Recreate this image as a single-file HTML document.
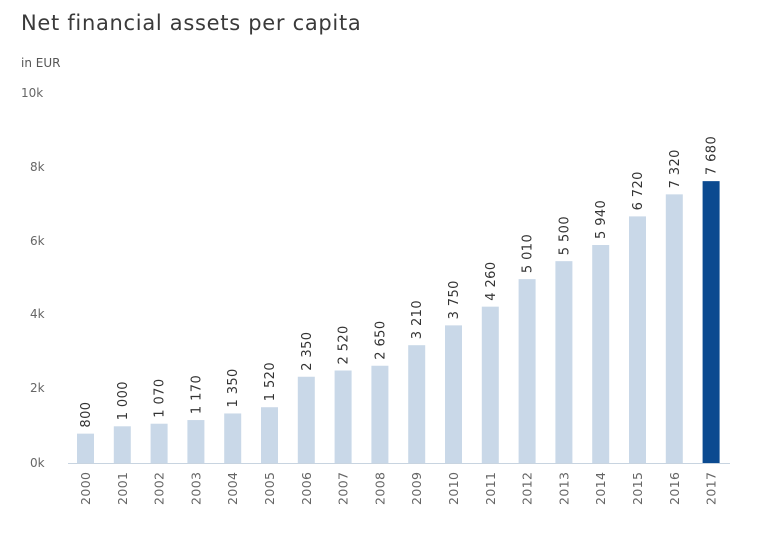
<!DOCTYPE html>
<html><head><style>
body{margin:0;background:#fff;}
svg{display:block;font-family:"DejaVu Sans","Liberation Sans",sans-serif;}
</style></head><body>
<svg width="768" height="540" viewBox="0 0 768 540">
<text x="21" y="30" font-size="21" letter-spacing="0.7" fill="#3a3a3a">Net financial assets per capita</text>
<text x="21" y="67" font-size="12" fill="#555">in EUR</text>
<g font-size="12" fill="#666">
<text x="21" y="97">10k</text>
<text x="30" y="171">8k</text>
<text x="30" y="245">6k</text>
<text x="30" y="318">4k</text>
<text x="30" y="392">2k</text>
<text x="30" y="467">0k</text>
</g>
<line x1="68" y1="463.5" x2="730" y2="463.5" stroke="#c8d4e0" stroke-width="1"/>
<g fill="#c9d8e8">
<rect x="77" y="433.64" width="17" height="29.36"/>
<rect x="113.8" y="426.3" width="17" height="36.7"/>
<rect x="150.6" y="423.73" width="17" height="39.27"/>
<rect x="187.4" y="420.06" width="17" height="42.94"/>
<rect x="224.2" y="413.45" width="17" height="49.55"/>
<rect x="261" y="407.22" width="17" height="55.78"/>
<rect x="297.8" y="376.75" width="17" height="86.25"/>
<rect x="334.6" y="370.52" width="17" height="92.48"/>
<rect x="371.4" y="365.74" width="17" height="97.26"/>
<rect x="408.2" y="345.19" width="17" height="117.81"/>
<rect x="445" y="325.37" width="17" height="137.63"/>
<rect x="481.8" y="306.66" width="17" height="156.34"/>
<rect x="518.6" y="279.13" width="17" height="183.87"/>
<rect x="555.4" y="261.15" width="17" height="201.85"/>
<rect x="592.2" y="245" width="17" height="218"/>
<rect x="629" y="216.38" width="17" height="246.62"/>
<rect x="665.8" y="194.36" width="17" height="268.64"/>
</g>
<rect x="702.6" y="181.14" width="17" height="281.86" fill="#0b4a90"/>
<g font-size="13" letter-spacing="0.4" fill="#333">
<text transform="translate(90,427.6) rotate(-90)">800</text>
<text transform="translate(126.8,420.3) rotate(-90)">1 000</text>
<text transform="translate(163.6,417.7) rotate(-90)">1 070</text>
<text transform="translate(200.4,414.1) rotate(-90)">1 170</text>
<text transform="translate(237.2,407.5) rotate(-90)">1 350</text>
<text transform="translate(274,401.2) rotate(-90)">1 520</text>
<text transform="translate(310.8,370.8) rotate(-90)">2 350</text>
<text transform="translate(347.6,364.5) rotate(-90)">2 520</text>
<text transform="translate(384.4,359.7) rotate(-90)">2 650</text>
<text transform="translate(421.2,339.2) rotate(-90)">3 210</text>
<text transform="translate(458,319.4) rotate(-90)">3 750</text>
<text transform="translate(494.8,300.7) rotate(-90)">4 260</text>
<text transform="translate(531.6,273.1) rotate(-90)">5 010</text>
<text transform="translate(568.4,255.2) rotate(-90)">5 500</text>
<text transform="translate(605.2,239) rotate(-90)">5 940</text>
<text transform="translate(642,210.4) rotate(-90)">6 720</text>
<text transform="translate(678.8,188.4) rotate(-90)">7 320</text>
<text transform="translate(715.6,175.1) rotate(-90)">7 680</text>
</g>
<g font-size="12.5" letter-spacing="0.4" fill="#666">
<text transform="translate(90,505) rotate(-90)">2000</text>
<text transform="translate(126.8,505) rotate(-90)">2001</text>
<text transform="translate(163.6,505) rotate(-90)">2002</text>
<text transform="translate(200.4,505) rotate(-90)">2003</text>
<text transform="translate(237.2,505) rotate(-90)">2004</text>
<text transform="translate(274,505) rotate(-90)">2005</text>
<text transform="translate(310.8,505) rotate(-90)">2006</text>
<text transform="translate(347.6,505) rotate(-90)">2007</text>
<text transform="translate(384.4,505) rotate(-90)">2008</text>
<text transform="translate(421.2,505) rotate(-90)">2009</text>
<text transform="translate(458,505) rotate(-90)">2010</text>
<text transform="translate(494.8,505) rotate(-90)">2011</text>
<text transform="translate(531.6,505) rotate(-90)">2012</text>
<text transform="translate(568.4,505) rotate(-90)">2013</text>
<text transform="translate(605.2,505) rotate(-90)">2014</text>
<text transform="translate(642,505) rotate(-90)">2015</text>
<text transform="translate(678.8,505) rotate(-90)">2016</text>
<text transform="translate(715.6,505) rotate(-90)">2017</text>
</g>
</svg>
</body></html>
